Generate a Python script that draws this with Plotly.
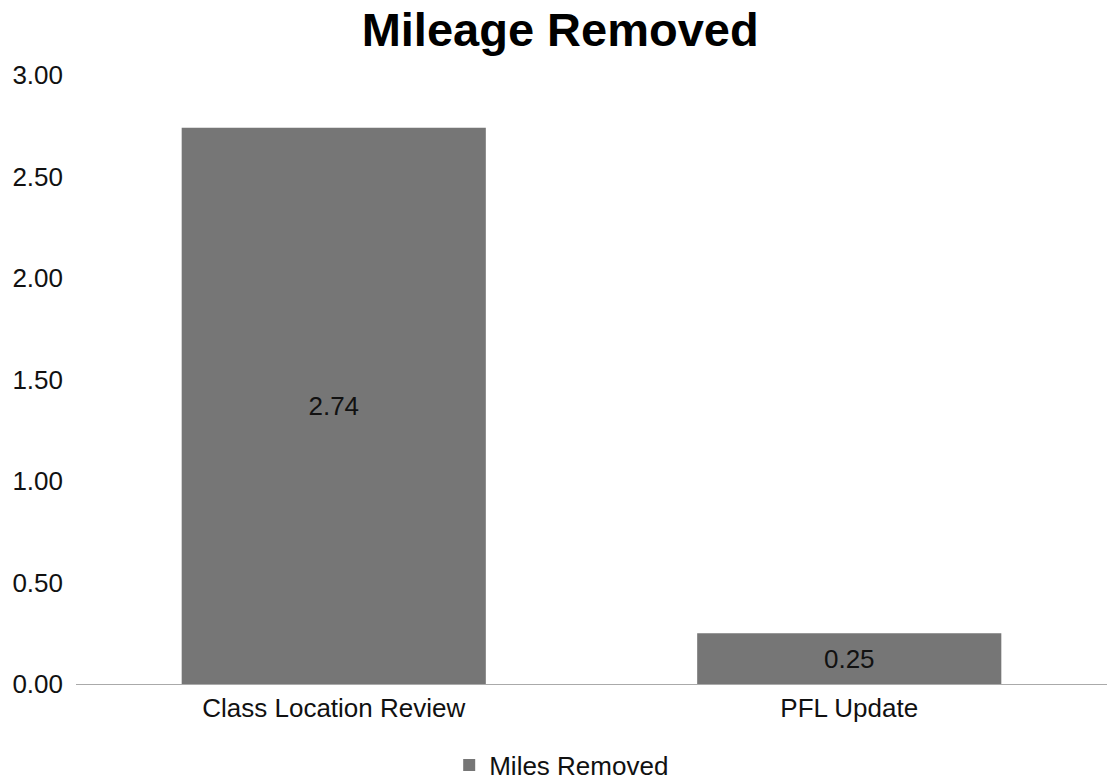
import plotly.graph_objects as go

categories = ["Class Location Review", "PFL Update"]
miles_removed = [2.74, 0.25]
tick_vals = [0, 0.5, 1.0, 1.5, 2.0, 2.5, 3.0]
series_name = "Miles Removed"
title_text = "Mileage Removed"

FONT = "Liberation Sans, Arial, sans-serif"

fig = go.Figure()
fig.add_trace(go.Bar(
    x=categories,
    y=miles_removed,
    name=series_name,
    marker=dict(color="#767676", line=dict(width=0)),
    width=0.59,
    text=[f"{v:.2f}" for v in miles_removed],
    textposition="inside",
    insidetextanchor="middle",
    textfont=dict(family=FONT, size=26, color="#111111"),
    showlegend=True,
))

fig.update_layout(
    width=1107, height=780,
    paper_bgcolor="white", plot_bgcolor="white",
    margin=dict(l=76, r=0, t=75, b=96),
    title=dict(text="<b>" + title_text + "</b>", x=0.506, xanchor="center",
               y=0.9615, yanchor="middle",
               font=dict(family=FONT, size=47, color="#000000")),
    font=dict(family=FONT, size=26, color="#111111"),
    xaxis=dict(showgrid=False, showline=False, ticks="", ticklabelstandoff=6,
               tickfont=dict(size=26)),
    yaxis=dict(range=[0, 3.0], tickvals=tick_vals, tickformat=".2f", showgrid=False,
               zeroline=True, zerolinecolor="#aaaaaa", zerolinewidth=1,
               showline=False, ticks="", ticklabelstandoff=12, tickfont=dict(size=26)),
    legend=dict(orientation="h", xref="container", yref="container",
                x=0.5074, xanchor="center", y=0.0192, yanchor="middle",
                font=dict(size=26), itemwidth=30),
    bargap=0.41,
)

fig.write_html("out.html", config={"displayModeBar": False},
               post_script="document.body.style.margin='0px';")
